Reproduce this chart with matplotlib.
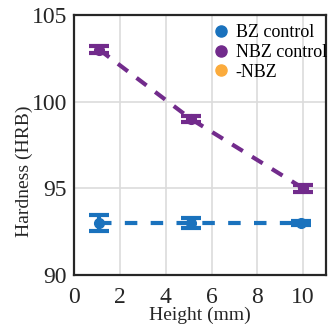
import matplotlib
matplotlib.use('Agg')
import matplotlib.pyplot as plt

# data
heights_bz = [1.1, 5.1, 9.9]
hardness_bz = [93.0, 93.0, 93.0]
err_bz = [0.45, 0.3, 0.1]

heights_nbz = [1.1, 5.1, 10.0]
hardness_nbz = [103.0, 99.0, 95.0]
err_nbz = [0.2, 0.2, 0.2]

labels = ['BZ control', 'NBZ control', '-NBZ']
colors = ['#1a72bd', '#722b8c', '#fbab3c']

plt.rcParams['font.family'] = ['Liberation Serif', 'DejaVu Serif']

fig = plt.figure(figsize=(3.28, 3.28), dpi=100)
ax = fig.add_axes([0.226, 0.162, 0.768, 0.792])

eb_style = dict(fmt='o', ms=7, elinewidth=3, capsize=7.5, capthick=3, zorder=3)
ax.errorbar(heights_bz, hardness_bz, yerr=err_bz, color=colors[0], **eb_style)
ax.plot(heights_bz, hardness_bz, '--', color=colors[0], lw=3, dashes=(3, 3.2), zorder=2)

ax.errorbar(heights_nbz, hardness_nbz, yerr=err_nbz, color=colors[1], **eb_style)
ax.plot(heights_nbz, hardness_nbz, '--', color=colors[1], lw=3, dashes=(3, 2.6), zorder=2)

# legend entries
for lab, c in zip(labels, colors):
    ax.plot([], [], 'o', color=c, ms=8, label=lab)

ax.set_xlim(0, 11)
ax.set_ylim(90, 105)
ax.set_xticks([0, 2, 4, 6, 8, 10])
ax.set_yticks([90, 95, 100, 105])
ax.grid(True, color='#dcdcdc', lw=1.2)
ax.set_axisbelow(True)
for s in ax.spines.values():
    s.set_linewidth(1.6)
    s.set_color('#262626')
ax.tick_params(labelsize=17, length=0, colors='#262626')
ax.tick_params(axis='x', pad=9)
ax.tick_params(axis='y', pad=5)
ax.set_xlabel('Height (mm)', fontsize=14, labelpad=-1, color='#262626')
ax.set_ylabel('Hardness (HRB)', fontsize=14, color='#262626')
ax.yaxis.set_label_coords(-0.165, 0.4)

ax.legend(loc='upper right', frameon=False, fontsize=13, handletextpad=0.4,
          handlelength=0.8, borderaxespad=0.0, labelspacing=0.15,
          borderpad=0.3, bbox_to_anchor=(1.025, 0.985))

fig.savefig('out.png', dpi=100)
